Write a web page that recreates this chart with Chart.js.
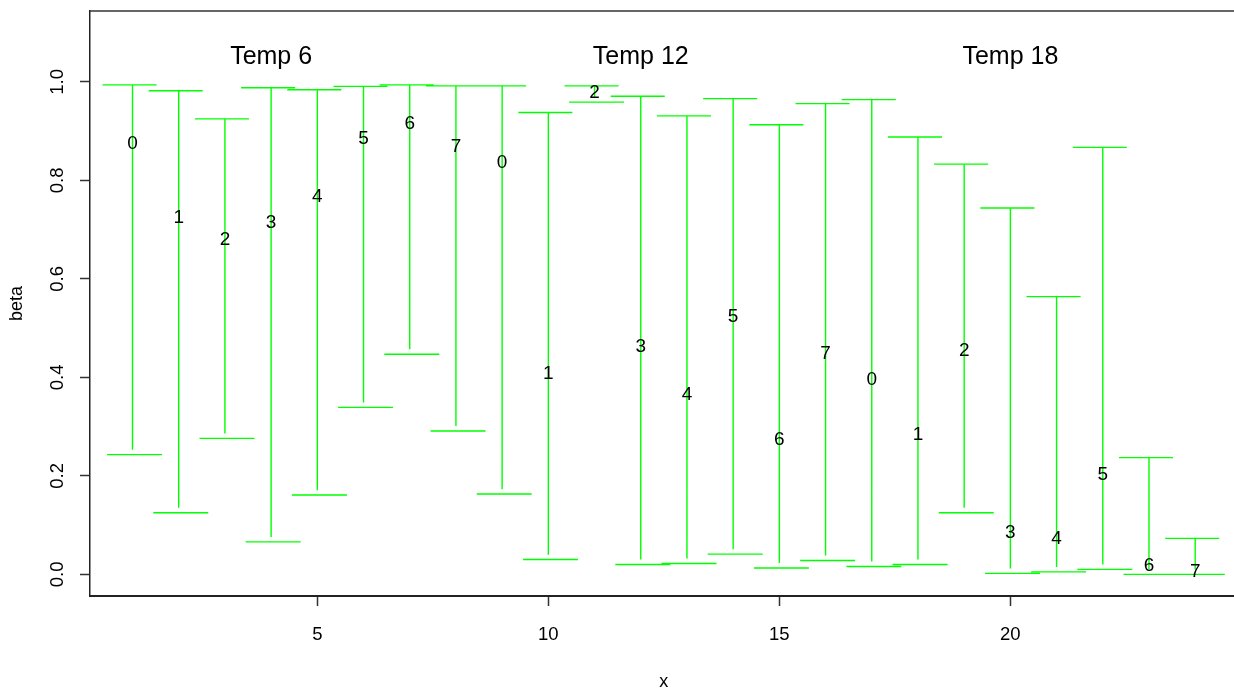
<!DOCTYPE html>
<html>
<head>
<meta charset="utf-8">
<script src="https://cdn.jsdelivr.net/npm/chart.js@4.4.1/dist/chart.umd.min.js"></script>
<style>
  html, body { margin: 0; padding: 0; background: #fff; }
  canvas { display: block; }
</style>
</head>
<body>
<canvas id="mycanvas" width="1234" height="689"></canvas>
<script>
// values
var xs = [1,2,3,4,5,6,7,8,9,10,11,12,13,14,15,16,17,18,19,20,21,22,23,24];
var pointLabels = ['0','1','2','3','4','5','6','7','0','1','2','3','4','5','6','7','0','1','2','3','4','5','6','7'];
var upper = [0.994,0.982,0.925,0.988,0.984,0.991,0.994,0.992, 0.992,0.938,0.992,0.971,0.931,0.966,0.913,0.956, 0.964,0.888,0.833,0.744,0.564,0.867,0.237,0.073];
var lower = [0.243,0.125,0.276,0.066,0.161,0.339,0.447,0.291, 0.163,0.030,0.959,0.020,0.022,0.041,0.013,0.028, 0.016,0.020,0.125,0.002,0.005,0.010,0.000,0.000];
var est   = [0.875,0.725,0.679,0.713,0.767,0.885,0.914,0.869, 0.835,0.407,0.977,0.463,0.365,0.524,0.274,0.447, 0.396,0.283,0.453,0.085,0.073,0.203,0.018,0.005];

var groupNames = ['Temp 6','Temp 12','Temp 18'];
var groupX = [4, 12, 20];
var groupY = 1.05;

var xTicks = [5, 10, 15, 20];
var yTicks = [0, 0.2, 0.4, 0.6, 0.8, 1.0];

// cap ends (x units) and the little gap above the lower cap
var capUp = [-0.65, 0.52];
var capLo = [-0.55, 0.64];
var gap = 0.01;

var FONT = '"Liberation Sans", Arial, sans-serif';
var GREEN = '#00ff00';

// build the segments, separated by null points
var segs = [];
for (var i = 0; i < xs.length; i++) {
	var x = xs[i];
	segs.push({x: x + capUp[0], y: upper[i]}, {x: x + capUp[1], y: upper[i]}, {x: x, y: null});
	segs.push({x: x, y: upper[i]}, {x: x, y: Math.min(upper[i], lower[i] + gap)}, {x: x, y: null});
	segs.push({x: x + capLo[0], y: lower[i]}, {x: x + capLo[1], y: lower[i]}, {x: x, y: null});
}

var textPlugin = {
	id: 'textPlugin',
	afterDraw: function(chart) {
		var ctx = chart.ctx;
		var sx = chart.scales.x, sy = chart.scales.y;
		var area = chart.chartArea;
		ctx.save();

		// top border of the box
		ctx.strokeStyle = '#333';
		ctx.lineWidth = 1.5;
		ctx.beginPath();
		ctx.moveTo(area.left, area.top);
		ctx.lineTo(area.right, area.top);
		ctx.stroke();

		ctx.fillStyle = '#000';
		ctx.textAlign = 'center';
		ctx.textBaseline = 'middle';

		// estimate labels
		ctx.font = '19px ' + FONT;
		for (var i = 0; i < xs.length; i++) {
			ctx.fillText(pointLabels[i], sx.getPixelForValue(xs[i]), sy.getPixelForValue(est[i]));
		}

		// group titles
		ctx.font = '25px ' + FONT;
		for (var g = 0; g < groupNames.length; g++) {
			ctx.fillText(groupNames[g], sx.getPixelForValue(groupX[g]), sy.getPixelForValue(groupY));
		}

		// y tick labels, rotated like R
		ctx.font = '18.5px ' + FONT;
		for (var t = 0; t < yTicks.length; t++) {
			ctx.save();
			ctx.translate(58, sy.getPixelForValue(yTicks[t]));
			ctx.rotate(-Math.PI / 2);
			ctx.fillText(yTicks[t].toFixed(1), 0, 0);
			ctx.restore();
		}

		// axis titles
		ctx.font = '18px ' + FONT;
		ctx.fillText('x', (area.left + sx.getPixelForValue(24.92)) / 2, 682);
		ctx.save();
		ctx.translate(17, (area.top + area.bottom) / 2);
		ctx.rotate(-Math.PI / 2);
		ctx.fillText('beta', 0, 0);
		ctx.restore();

		ctx.restore();
	}
};

var ctx = document.getElementById('mycanvas');
var chart = new Chart(ctx, {
	type: 'scatter',
	data: {
		datasets: [{
			data: segs,
			showLine: true,
			spanGaps: false,
			borderColor: GREEN,
			borderWidth: 1.4,
			pointRadius: 0,
			pointHoverRadius: 0
		}]
	},
	options: {
		responsive: false,
		animation: false,
		events: [],
		layout: { padding: { top: 11, right: 0, left: 0, bottom: 0 } },
		plugins: { legend: { display: false }, tooltip: { enabled: false } },
		scales: {
			x: {
				type: 'linear',
				min: 0.08,
				max: 24.84,
				afterBuildTicks: function(s) { s.ticks = xTicks.map(function(v) { return {value: v}; }); },
				afterFit: function(s) { s.height = 93; },
				grid: { drawOnChartArea: false, tickLength: 10, color: '#333', tickWidth: 1.5 },
				border: { color: '#222', width: 2 },
				ticks: { color: '#000', font: { family: FONT, size: 18.5 }, padding: 18, maxRotation: 0 }
			},
			y: {
				type: 'linear',
				min: -0.044,
				max: 1.144,
				afterBuildTicks: function(s) { s.ticks = yTicks.map(function(v) { return {value: v}; }); },
				afterFit: function(s) { s.width = 90; },
				grid: { drawOnChartArea: false, tickLength: 10, color: '#333', tickWidth: 1.5 },
				border: { color: '#222', width: 1.5 },
				ticks: { display: false }
			}
		}
	},
	plugins: [textPlugin]
});
</script>
</body>
</html>
